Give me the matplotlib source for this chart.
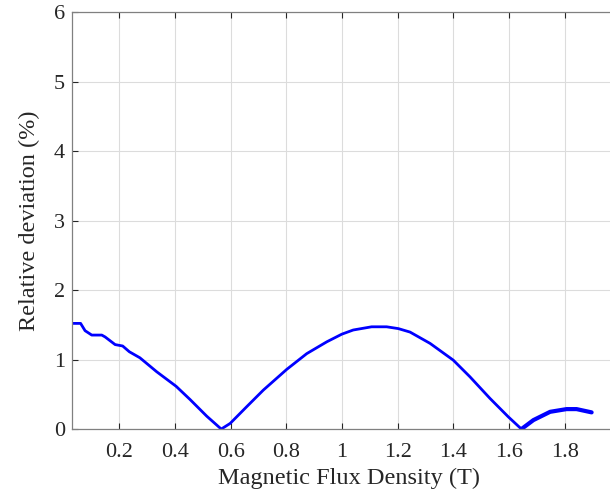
import matplotlib.pyplot as plt
import numpy as np

plt.rcParams['font.family'] = ['Liberation Serif', 'DejaVu Serif']

# curve
b_main = [0.033, 0.061, 0.077, 0.101, 0.137, 0.149, 0.185, 0.212, 0.236, 0.274,
          0.334, 0.404, 0.454, 0.514, 0.566, 0.598, 0.657, 0.717, 0.801, 0.873,
          0.945, 0.999, 1.04, 1.106, 1.16, 1.202, 1.244, 1.316, 1.399, 1.459,
          1.531, 1.597, 1.644]
dev_main = [1.525, 1.525, 1.42, 1.357, 1.357, 1.33, 1.22, 1.20, 1.117, 1.03,
            0.83, 0.62, 0.43, 0.19, 0.005, 0.086, 0.325, 0.565, 0.863, 1.09,
            1.26, 1.37, 1.43, 1.476, 1.476, 1.45, 1.40, 1.237, 0.997, 0.757,
            0.446, 0.18, 0.005]
b_tail = [1.644, 1.687, 1.747, 1.806, 1.842, 1.896]
dev_tail = [0.005, 0.134, 0.253, 0.292, 0.292, 0.245]

xticks = [0.2, 0.4, 0.6, 0.8, 1.0, 1.2, 1.4, 1.6, 1.8]
xticklabels = ['0.2', '0.4', '0.6', '0.8', '1', '1.2', '1.4', '1.6', '1.8']
yticks = [0, 1, 2, 3, 4, 5, 6]

fig = plt.figure(figsize=(6.1, 4.93), dpi=100)
ax = fig.add_axes([0.118, 0.129, 0.882, 0.846])

ax.plot(b_main, dev_main, color='#0000ff', linewidth=2.0, solid_joinstyle='round')
ax.plot(b_tail, dev_tail, color='#0000ff', linewidth=3.0, solid_capstyle='round')

ax.set_xlim(0.03, 1.962)
ax.set_ylim(0, 6)
ax.set_xticks(xticks)
ax.set_xticklabels(xticklabels)
ax.set_yticks(yticks)

ax.grid(True, color='#dcdcdc', linewidth=0.8)
ax.set_axisbelow(True)
ax.tick_params(direction='in', length=4, width=0.8, colors='#262626',
               labelsize=16, top=True, right=False)
ax.tick_params(axis='x', pad=10)
ax.tick_params(axis='y', pad=5)
for s in ['left', 'bottom', 'top']:
    ax.spines[s].set_color('#808080')
    ax.spines[s].set_linewidth(0.9)
ax.spines['right'].set_visible(False)

ax.set_xlabel('Magnetic Flux Density (T)', fontsize=17.5, color='#262626')
ax.xaxis.set_label_coords(0.515, -0.117)
ax.xaxis.label.set_va('center')
ax.set_ylabel('Relative deviation (%)', fontsize=17.5, color='#262626', labelpad=10)

fig.savefig('out.png', dpi=100)
